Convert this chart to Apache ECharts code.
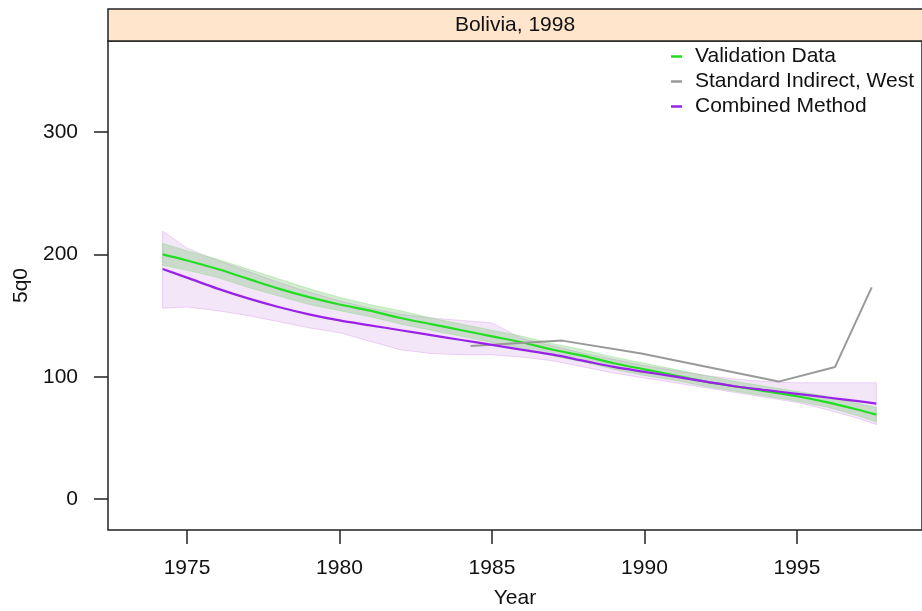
<!DOCTYPE html>
<html>
<head>
<meta charset="utf-8">
<script src="https://cdn.jsdelivr.net/npm/echarts@6/dist/echarts.min.js"></script>
<style>
  html, body { margin: 0; padding: 0; background: #fff; }
  #main { width: 922px; height: 611px; }
</style>
</head>
<body>
<div id="main"></div>
<script>
const years = [1974.2, 1975, 1976, 1977, 1978, 1979, 1980, 1981, 1982, 1983, 1984, 1985, 1986,
  1987, 1988, 1989, 1990, 1991, 1992, 1993, 1994, 1995, 1996, 1997, 1997.6];

// Validation Data (green) + its band
const validation = [200, 195, 188, 180, 172, 165, 159, 154, 148, 143, 138, 133, 128,
  122, 117, 111, 106, 101, 96, 92, 88, 84, 79, 73, 69];
const validationLow = [191, 187, 181, 173, 166, 159, 154, 149, 143, 138, 133, 128, 123,
  117, 112, 106, 101, 97, 92, 88, 84, 80, 75, 68, 63];
const validationHigh = [209, 203, 196, 188, 180, 172, 165, 159, 154, 148, 143, 138, 133,
  127, 122, 116, 111, 106, 101, 96, 92, 88, 84, 78, 75];

// Combined Method (purple) + its band
const combined = [188, 181, 172, 164, 157, 151, 146, 142, 138, 134, 130, 126, 122,
  118, 113, 108, 104, 100, 96, 92, 89, 86, 83, 80, 78];
const combinedLow = [156, 157, 154, 150, 145, 140, 136, 129, 122, 119, 118, 118, 116,
  113, 108, 103, 99, 95, 91, 87, 83, 79, 73, 66, 61];
const combinedHigh = [219, 205, 195, 186, 177, 169, 162, 156, 151, 148, 146, 144, 131,
  125, 119, 114, 109, 105, 101, 98, 96, 95, 95, 95, 95];

// Standard Indirect, West (gray)
const indirectYears = [1984.3, 1987.3, 1989.9, 1994.4, 1996.25, 1997.45];
const indirect = [125, 129.5, 119, 96, 108, 173];

const xTicks = [1975, 1980, 1985, 1990, 1995];
const yTicks = [0, 100, 200, 300];

const FONT = 'Liberation Sans, Arial, sans-serif';
const FS = 21;

const pairs = (xs, ys) => xs.map((x, i) => [x, ys[i]]);

// band polygon drawn through the axes
function bandSeries(low, high, fill, stroke) {
  return {
    type: 'custom',
    silent: true,
    clip: true,
    data: years.map((x, i) => [x, low[i], high[i]]),
    encode: { x: 0, y: [1, 2] },
    renderItem: function (params, api) {
      if (params.dataIndex !== 0) return;
      const pts = [];
      for (let i = 0; i < years.length; i++) pts.push(api.coord([years[i], high[i]]));
      for (let i = years.length - 1; i >= 0; i--) pts.push(api.coord([years[i], low[i]]));
      return {
        type: 'polygon',
        shape: { points: pts },
        style: { fill: fill, stroke: stroke, lineWidth: 1 }
      };
    },
    z: 1
  };
}

var myChart = echarts.init(document.getElementById('main'));

myChart.setOption({
  animation: false,
  textStyle: { fontFamily: FONT },
  graphic: [
    {
      type: 'rect',
      shape: { x: 108, y: 9, width: 830, height: 32 },
      style: { fill: '#ffe5cc', stroke: '#222', lineWidth: 1.5 },
      z: 10
    },
    {
      type: 'text',
      x: 515, y: 25,
      style: {
        text: 'Bolivia, 1998', fill: '#111', font: FS + 'px ' + FONT,
        align: 'center', verticalAlign: 'middle'
      },
      z: 11
    }
  ],
  legend: {
    orient: 'vertical',
    left: 666,
    top: 41,
    itemWidth: 11,
    itemHeight: 2.5,
    itemGap: 4,
    icon: 'rect',
    textStyle: { fontSize: FS, color: '#111', fontFamily: FONT, padding: [0, 0, 0, 8] },
    data: ['Validation Data', 'Standard Indirect, West', 'Combined Method']
  },
  grid: {
    left: 108,
    top: 41,
    right: 0,
    bottom: 81,
    show: true,
    borderColor: '#222',
    borderWidth: 1.5,
    containLabel: false,
    outerBoundsMode: 'none'
  },
  xAxis: {
    type: 'value',
    min: 1972.41,
    max: 1999.1,
    name: 'Year',
    nameLocation: 'middle',
    nameGap: 58,
    nameTextStyle: { fontSize: FS, color: '#111' },
    axisLine: { show: false, onZero: false },
    axisTick: { show: true, length: 14, customValues: xTicks, lineStyle: { color: '#222', width: 1.5 } },
    axisLabel: {
      customValues: xTicks, fontSize: FS, color: '#111', margin: 28,
      formatter: function (v) { return String(v); }
    },
    splitLine: { show: false }
  },
  yAxis: {
    type: 'value',
    min: -25.3,
    max: 374.4,
    name: '5q0',
    nameLocation: 'middle',
    nameGap: 76,
    nameTextStyle: { fontSize: FS, color: '#111' },
    axisLine: { show: false, onZero: false },
    axisTick: { show: true, length: 14, customValues: yTicks, lineStyle: { color: '#222', width: 1.5 } },
    axisLabel: { customValues: yTicks, fontSize: FS, color: '#111', margin: 30 },
    splitLine: { show: false }
  },
  series: [
    bandSeries(combinedLow, combinedHigh, 'rgba(215,165,235,0.28)', 'rgba(220,170,235,0.5)'),
    bandSeries(validationLow, validationHigh, 'rgba(110,190,100,0.30)', 'rgba(120,220,110,0.35)'),
    {
      name: 'Validation Data',
      type: 'line',
      data: pairs(years, validation),
      smooth: 0.3,
      showSymbol: false,
      color: '#22dd22',
      lineStyle: { width: 2.2, color: '#22dd22' },
      z: 3
    },
    {
      name: 'Standard Indirect, West',
      type: 'line',
      data: pairs(indirectYears, indirect),
      showSymbol: false,
      color: '#999999',
      lineStyle: { width: 2, color: '#999999' },
      z: 3
    },
    {
      name: 'Combined Method',
      type: 'line',
      data: pairs(years, combined),
      smooth: 0.3,
      showSymbol: false,
      color: '#9a22e8',
      lineStyle: { width: 2.2, color: '#9a22e8' },
      z: 4
    }
  ]
});
</script>
</body>
</html>
